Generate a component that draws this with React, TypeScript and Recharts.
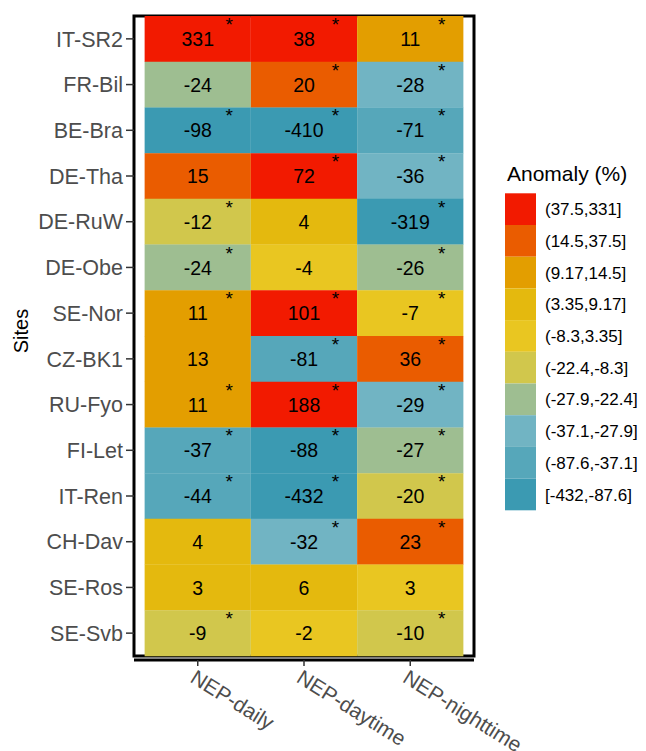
import React from "react";
import {
  BarChart,
  Bar,
  XAxis,
  YAxis,
  Cell,
  LabelList,
  ReferenceArea,
} from "recharts";

// ---------- data ----------
const sites = [
  "IT-SR2", "FR-Bil", "BE-Bra", "DE-Tha", "DE-RuW", "DE-Obe", "SE-Nor",
  "CZ-BK1", "RU-Fyo", "FI-Let", "IT-Ren", "CH-Dav", "SE-Ros", "SE-Svb",
];
const variables = ["NEP-daily", "NEP-daytime", "NEP-nighttime"];

const nepDaily = [331, -24, -98, 15, -12, -24, 11, 13, 11, -37.1, -44, 4, 3.4, -9];
const nepDaytime = [38, 20, -410, 72, 4, -4, 101, -81, 188, -88, -432, -32, 6, -2];
const nepNighttime = [11, -28, -71, -36, -319, -26, -7, 36, -29, -27, -20, 23, 3, -10];

const sigDaily = [1, 0, 1, 0, 1, 1, 1, 0, 1, 1, 1, 0, 0, 1];
const sigDaytime = [1, 1, 1, 1, 0, 0, 1, 1, 1, 1, 1, 1, 0, 0];
const sigNighttime = [1, 1, 1, 1, 1, 1, 1, 1, 1, 1, 1, 1, 0, 1];

// bins (low -> high)
const breaks = [-432, -87.6, -37.1, -27.9, -22.4, -8.3, 3.35, 9.17, 14.5, 37.5, 331];
const binLabels = [
  "[-432,-87.6]", "(-87.6,-37.1]", "(-37.1,-27.9]", "(-27.9,-22.4]", "(-22.4,-8.3]",
  "(-8.3,3.35]", "(3.35,9.17]", "(9.17,14.5]", "(14.5,37.5]", "(37.5,331]",
];
const binColors = [
  "#3B9AB2", "#56A7BA", "#71B4C3", "#9EBE91", "#D1C74C",
  "#E9C621", "#E4B90E", "#E39E00", "#EA5C00", "#F21A00",
];
const legendTitle = "Anomaly (%)";
const yTitle = "Sites";

const columns = [nepDaily, nepDaytime, nepNighttime];

function binOf(v: number): number {
  for (let i = 0; i < binColors.length; i++) {
    if (v <= breaks[i + 1]) return i;
  }
  return binColors.length - 1;
}

const rows = sites.map((s, i) => ({
  site: s,
  w0: 1, w1: 1, w2: 1,
  v0: nepDaily[i], v1: nepDaytime[i], v2: nepNighttime[i],
  s0: sigDaily[i], s1: sigDaytime[i], s2: sigNighttime[i],
}));

const FONT = "'Liberation Sans', Arial, Helvetica, sans-serif";

const renderValue = (props: any) => {
  const { x, y, width, height, value } = props;
  return (
    <text
      x={x + width / 2}
      y={y + height / 2}
      dy="0.36em"
      textAnchor="middle"
      fontFamily={FONT}
      fontSize={19.5}
      fill="#000"
    >
      {Math.round(value)}
    </text>
  );
};

const renderStar = (props: any) => {
  const { x, y, width, value } = props;
  if (!value) return null;
  return (
    <text
      x={x + width / 2 + 31.5}
      y={y + 15}
      textAnchor="middle"
      fontFamily={FONT}
      fontSize={19}
      fill="#000"
    >
      *
    </text>
  );
};

const XTick = (props: any) => {
  const { x, y, payload } = props;
  const idx = Math.round(payload.value - 0.5);
  return (
    <g transform={`translate(${x},${y}) rotate(32)`}>
      <text x={-1} y={15} textAnchor="start" fontFamily={FONT} fontSize={21} fill="#4D4D4D">
        {variables[idx]}
      </text>
    </g>
  );
};

const YTick = (props: any) => {
  const { x, y, payload } = props;
  return (
    <text x={x} y={y} dy="0.36em" textAnchor="end" fontFamily={FONT} fontSize={21.5} fill="#4D4D4D">
      {payload.value}
    </text>
  );
};

const LegendBox = () => {
  const keyH = 31.7;
  return (
    <svg width={160} height={380} style={{ display: "block" }}>
      <text x={9} y={22.7} fontFamily={FONT} fontSize={21} fill="#000">
        {legendTitle}
      </text>
      {binColors
        .map((c, i) => ({ c, label: binLabels[i], i }))
        .reverse()
        .map((d, k) => (
          <g key={d.i}>
            <rect x={7} y={35.3 + k * keyH} width={31} height={keyH} fill={d.c} />
            <text
              x={47}
              y={35.3 + k * keyH + keyH / 2}
              dy="0.36em"
              fontFamily={FONT}
              fontSize={17}
              fill="#000"
            >
              {d.label}
            </text>
          </g>
        ))}
    </svg>
  );
};

const SitesLabel = (props: any) => {
  const { viewBox } = props;
  const cy = viewBox.y + viewBox.height / 2 - 6;
  const cx = 20;
  return (
    <text
      transform={`translate(${cx},${cy}) rotate(-90)`}
      textAnchor="middle"
      fontFamily={FONT}
      fontSize={20}
      fill="#000"
    >
      {yTitle}
    </text>
  );
};

export default function App() {
  return (
    <div style={{ width: 638, height: 743, position: "relative" }}>
      <BarChart
        width={638}
        height={743}
        data={rows}
        layout="vertical"
        margin={{ top: 6, right: 172, bottom: 0, left: 0 }}
        barCategoryGap={0}
        barGap={0}
      >
        <XAxis
          type="number"
          domain={[-0.1, 3.1]}
          ticks={[0.5, 1.5, 2.5]}
          allowDataOverflow
          height={91}
          tickSize={6}
          tickMargin={3}
          tick={<XTick />}
          axisLine={{ stroke: "#000", strokeWidth: 3 }}
          tickLine={{ stroke: "#333", strokeWidth: 1.5 }}
          interval={0}
        />
        <YAxis
          type="category"
          dataKey="site"
          width={126}
          padding={{ top: 2, bottom: 4 }}
          tickSize={8}
          tickMargin={3}
          tick={<YTick />}
          axisLine={false}
          tickLine={{ stroke: "#333", strokeWidth: 1.5 }}
          interval={0}
          label={<SitesLabel />}
        />
        {columns.map((col, j) => (
          <Bar
            key={j}
            dataKey={`w${j}`}
            stackId="a"
            isAnimationActive={false}
          >
            {col.map((v, i) => (
              <Cell key={i} fill={binColors[binOf(v)]} />
            ))}
            <LabelList dataKey={`v${j}`} content={renderValue} />
            <LabelList dataKey={`s${j}`} content={renderStar} />
          </Bar>
        ))}
        <ReferenceArea
          x1={-0.1}
          x2={3.1}
          fill="none"
          fillOpacity={0}
          stroke="#000"
          strokeWidth={3}
          ifOverflow="visible"
        />
      </BarChart>
      <div style={{ position: "absolute", left: 490, top: 150 }}>
        <LegendBox />
      </div>
    </div>
  );
}
